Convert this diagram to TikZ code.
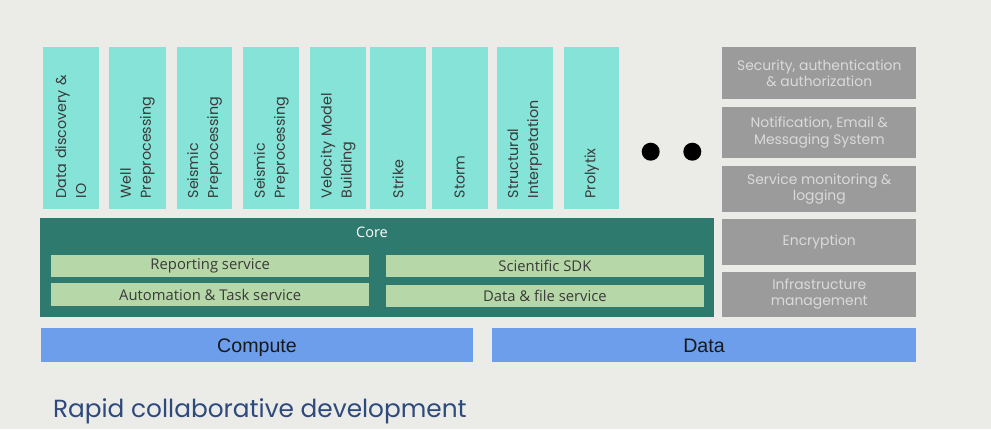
\documentclass[tikz,border=0pt]{standalone}
\usepackage{fontspec}
\setmainfont{Poppins}
\newfontfamily\barfont{Liberation Sans}
\newfontfamily\corefont{Open Sans}
\usetikzlibrary{positioning}
\definecolor{ppback}{HTML}{EBEBE7}
\definecolor{ppcyan}{HTML}{86E3D8}
\definecolor{ppcore}{HTML}{2F7A6E}
\definecolor{ppgreen}{HTML}{B6D7A8}
\definecolor{ppblue}{HTML}{6D9EEB}
\definecolor{ppgray}{HTML}{9B9B9B}
\definecolor{pplight}{HTML}{DADADA}
\definecolor{pptext}{HTML}{3A3A3A}
\definecolor{ppnavy}{HTML}{2E4A7C}

\begin{document}
\begin{tikzpicture}[x=1pt,y=-1pt,
 appbox/.style={rectangle,fill=ppcyan,rotate=90,minimum width=162pt,
  text width=140pt,inner xsep=11pt,inner ysep=0pt,align=left,
  text=pptext,font=\fontsize{14.3}{20}\selectfont},
 sidebox/.style={rectangle,fill=ppgray,minimum width=194pt,align=center,
  text=pplight,font=\fontsize{13.9}{16.5}\selectfont},
 svcbox/.style={rectangle,fill=ppgreen,inner sep=0pt,
  text=pptext,font=\corefont\fontsize{14.8}{16}\selectfont},
 basebar/.style={rectangle,fill=ppblue,minimum height=33.4pt,inner sep=0pt,
  text height=14pt,text depth=0pt,
  text=black!90,font=\barfont\fontsize{19.6}{22}\selectfont},
 dot/.style={circle,fill=black,minimum size=18pt,inner sep=0pt}]
\fill[ppback] (0,0) rectangle (991,429);
\useasboundingbox (0,0) rectangle (991,429);
% application column
\foreach \xa/\xb/\lbl [count=\i] in {
 42.7/99.0/{Data discovery \&\\IO},
 109.3/165.7/{Well\\Preprocessing},
 176.7/232.3/{Seismic\\Preprocessing},
 243.3/299.3/{Seismic\\Preprocessing},
 310.0/366.0/{Velocity Model\\Building},
 370.0/426.0/{Strike},
 431.7/487.7/{Storm},
 496.7/552.7/{Structural\\Interpretation},
 564.0/619.3/{Prolytix}}
 \node[appbox,minimum height=\xb-\xa] (app\i) at ({(\xa+\xb)/2},128.3) {\lbl};
\node[dot] (dot1) at (650.7,151.7) {};
\node[dot] (dot2) at (692.3,151.7) {};
% cross-cutting services
\foreach \ya/\yb/\lbl [count=\i] in {
 47.3/99.0/{Security, authentication\\\& authorization},
 106.7/158.3/{Notification, Email \&\\Messaging System},
 166.0/211.7/{Service monitoring \&\\logging},
 219.3/265.0/{Encryption},
 271.7/316.7/{Infrastructure\\management}}
 \node[sidebox,minimum height=\yb-\ya] (side\i) at (819.3,{(\ya+\yb)/2}) {\lbl};
% core platform
\node[rectangle,fill=ppcore,minimum width=674.6pt,minimum height=98.4pt]
 (core) at (377.1,267.5) {};
\node[text=white,font=\corefont\fontsize{14.5}{16}\selectfont] (coretitle)
 at (372,232.7) {Core};
\node[svcbox,minimum width=318.3pt,minimum height=21.7pt] (report)
 at (210.2,265.9) {Reporting service};
\node[svcbox,minimum width=318.3pt,minimum height=22.7pt] (auto)
 at (210.2,294.7) {Automation \& Task service};
\node[svcbox,minimum width=318.2pt,minimum height=21.7pt] (sdk)
 at (544.9,265.9) {Scientific SDK};
\node[svcbox,minimum width=318.2pt,minimum height=21.7pt] (files)
 at (544.9,295.9) {Data \& file service};
% infrastructure
\node[basebar,minimum width=432.6pt] (compute) at (257,345) {Compute};
\node[basebar,minimum width=424pt] (data) at (704,345) {Data};
\node[anchor=base west,text=ppnavy,font=\fontsize{24.8}{28}\selectfont]
 (title) at (49.5,417) {Rapid collaborative development};
\end{tikzpicture}
\end{document}
